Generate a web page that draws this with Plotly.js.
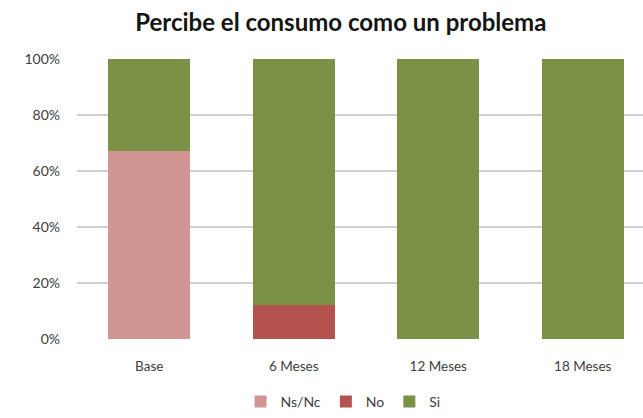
<!DOCTYPE html>
<html><head><meta charset="utf-8">
<script src="https://cdn.plot.ly/plotly-3.0.1.min.js"></script>
<style>body{margin:0;background:#fff}#chart{width:643px;height:418px}</style>
</head><body><div id="chart"></div>
<script>
const categories = ["Base", "6 Meses", "12 Meses", "18 Meses"];
const nsnc = [0.67, 0, 0, 0];
const no = [0, 0.12, 0, 0];
const si = [0.33, 0.88, 1.0, 1.0];
const seriesNames = ["Ns/Nc", "No", "Si"];
const colors = ["#D19694", "#B3524F", "#7B9145"];
const values = [nsnc, no, si];

const traces = values.map((v, i) => ({
  type: "bar", x: categories, y: v, name: seriesNames[i],
  marker: {color: colors[i], line: {width: 0}}, width: 0.57,
  hoverinfo: "skip"
}));

const layout = {
  width: 643, height: 418,
  margin: {l: 77, r: 0, t: 59, b: 75},
  paper_bgcolor: "#fff", plot_bgcolor: "#fff",
  barmode: "stack",
  font: {family: "Lato, 'Open Sans', sans-serif", size: 13, color: "#404040"},
  title: {text: "<b>Percibe el consumo como un problema</b>", x: 0.53, xanchor: "center", y: 0.947, yanchor: "middle",
          font: {family: "Lato, 'Open Sans', sans-serif", size: 24, color: "#151515"}},
  xaxis: {range: [-0.5, 3.417], showgrid: false, zeroline: false, showline: false, ticks: "",
          ticklabelstandoff: 17, tickfont: {size: 13.5, color: "#404040"}, fixedrange: true},
  yaxis: {range: [0, 1], tickvals: [0, 0.2, 0.4, 0.6, 0.8, 1.0], tickformat: ".0%",
          gridcolor: "#D0D0D0", gridwidth: 2, zeroline: false, showline: false, ticks: "",
          ticklabelstandoff: 16, tickfont: {size: 14, color: "#404040"}},
  showlegend: true,
  legend: {orientation: "h", x: 0.47, xanchor: "center", y: -0.225, yanchor: "middle",
           font: {size: 14, color: "#404040"}, itemwidth: 30, tracegroupgap: 0, traceorder: "normal"},
  bargap: 0.43
};
Plotly.newPlot("chart", traces, layout, {displayModeBar: false, staticPlot: true});
</script></body></html>
